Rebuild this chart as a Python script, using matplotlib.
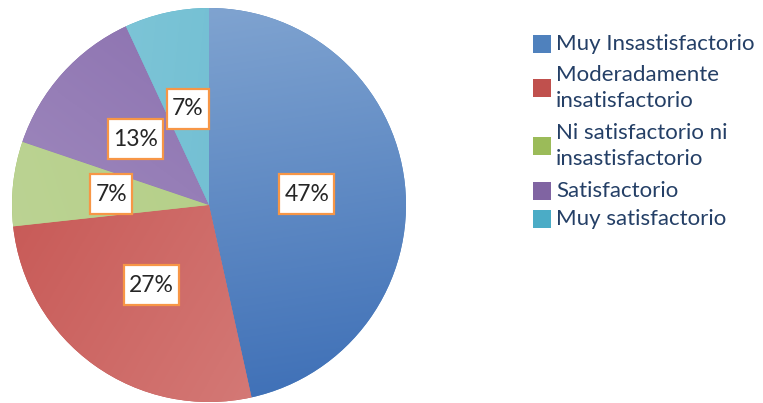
import numpy as np
import matplotlib.pyplot as plt
from matplotlib.colors import LinearSegmentedColormap
from matplotlib.patches import Rectangle
from matplotlib.path import Path

W, H = 763, 403

categorias = ['Muy Insastisfactorio', 'Moderadamente\ninsatisfactorio',
              'Ni satisfactorio ni\ninsastisfactorio', 'Satisfactorio', 'Muy satisfactorio']
porcentajes = [47, 27, 7, 13, 7]

# colores solidos (leyenda) y gradientes (claro, oscuro, direccion) por porcion
col_ley = ['#4F81BD', '#C0504D', '#9BBB59', '#8064A2', '#4BACC6']
grad = [('#84A7D2', '#3C6EB6', (0.15, -1.0)),
        ('#C4504D', '#D98683', (0.85, -0.5)),
        ('#AECB7C', '#BDD496', (-0.6, -0.2)),
        ('#A895C4', '#8467AA', (0.6, 0.8)),
        ('#86C9DA', '#62B7CD', (1.0, -0.1))]

plt.rcParams['font.family'] = ['Lato', 'DejaVu Sans']


def caja(x0, y0, width, height, mutation_size):
    # caja rectangular con mas margen vertical que horizontal
    px, py = 0.22 * mutation_size, 0.42 * mutation_size
    x0, y0 = x0 - px, y0 - py
    x1, y1 = x0 + width + 2 * px, y0 + height + 2 * py
    return Path([(x0, y0), (x1, y0), (x1, y1), (x0, y1), (x0, y0)], closed=True)


fig = plt.figure(figsize=(W / 100, H / 100), dpi=100)
cx, cy, r = 209, 205, 197
ax = fig.add_axes([(cx - r) / W, (H - cy - r) / H, 2 * r / W, 2 * r / H])

tot = sum(porcentajes)
wedges, _, autotexts = ax.pie(porcentajes, startangle=90, counterclock=False,
                              colors=col_ley, wedgeprops=dict(linewidth=0),
                              autopct=lambda p: '%.0f%%' % (p * tot / 100),
                              pctdistance=0.5)
ax.set_xlim(-1, 1)
ax.set_ylim(-1, 1)
ax.set_aspect('equal')

# relleno degradado recortado a cada porcion
xx, yy = np.meshgrid(np.linspace(-1, 1, 400), np.linspace(1, -1, 400))
for w, (c1, c2, d) in zip(wedges, grad):
    d = np.array(d) / np.hypot(*d)
    t = xx * d[0] + yy * d[1]
    t = (t - t.min()) / (t.max() - t.min())
    cmap = LinearSegmentedColormap.from_list('g', [c1, c2])
    im = ax.imshow(t, cmap=cmap, extent=[-1, 1, -1, 1], zorder=1, interpolation='bilinear')
    im.set_clip_path(w)
    w.set_zorder(0.5)

for t in autotexts:
    t.set_fontsize(16.5)
    t.set_color('#262626')
    t.set_zorder(5)
    t.set_bbox(dict(boxstyle=caja, fc='white', ec='#F79646', lw=1.6))

# leyenda manual
ley_y = [44, 88, 146, 191, 219]
for lab, c, y in zip(categorias, col_ley, ley_y):
    fig.patches.append(Rectangle((533 / W, 1 - (y + 9) / H), 18 / W, 18 / H,
                                 transform=fig.transFigure, fc=c, ec='none'))
    fig.text(556 / W, 1 - y / H, lab, fontsize=16, color='#243F66',
             va='center', ha='left', linespacing=1.42)

fig.savefig('out.png', dpi=100)
